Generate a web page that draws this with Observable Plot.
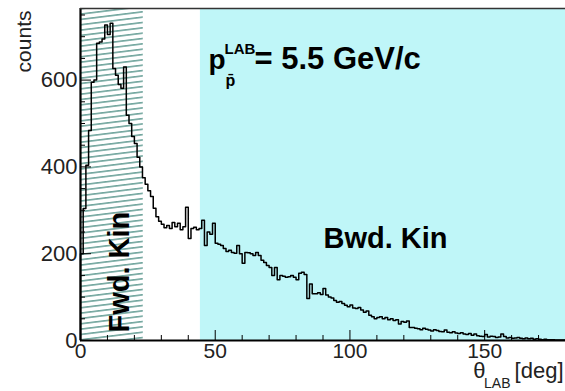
<!DOCTYPE html>
<html><head><meta charset="utf-8">
<script src="https://cdn.jsdelivr.net/npm/d3@7"></script>
<script src="https://cdn.jsdelivr.net/npm/@observablehq/plot@0.6"></script>
<style>body{margin:0;background:#fff}</style>
</head><body><div id="chart"></div>
<script>
// counts per 1-degree bin of theta_LAB (0..180 deg)
const binCounts = [
  200,304,404,484,595,600,685,688,695,727,
  705,731,627,611,590,581,630,519,500,470,
  454,422,400,375,360,345,332,305,285,275,
  268,260,265,258,272,262,270,255,262,307,
  235,258,261,255,258,277,219,250,245,270,
  224,222,219,212,205,208,203,201,219,200,
  178,203,202,200,196,203,196,185,180,173,
  168,150,168,140,150,148,146,147,150,146,
  140,155,157,152,97,130,108,108,110,106,
  120,105,100,98,92,88,90,85,81,78,
  82,75,74,76,70,65,68,58,55,50,
  53,55,50,53,48,50,46,48,38,44,
  42,45,30,30,28,27,25,28,26,24,
  22,25,23,21,20,24,19,18,20,17,
  16,18,15,14,16,12,15,11,10,9,
  14,8,10,9,7,8,15,9,6,7,
  5,6,7,5,4,6,4,5,3,4,
  3,2,3,2,2,2,1,1,1,1
];
const binWidth = 1;
const xDomain = [0, 180];
const yDomain = [0, 765];
const xTicksMajor = [0, 50, 100, 150];
const xTicksMinor = [10, 20, 30, 40, 60, 70, 80, 90, 110, 120, 130, 140, 160, 170];
const yTicksMajor = [0, 200, 400, 600];
const yTicksMinor = [50, 100, 150, 250, 300, 350, 450, 500, 550, 650, 700, 750];
const fwdRegion = [0, 23.3];
const bwdRegion = [44.5, 180];

const hist = [{x: 0, y: 0}];
binCounts.forEach((c, i) => hist.push({x: i * binWidth, y: c}));
hist.push({x: binCounts.length * binWidth, y: binCounts[binCounts.length - 1]});

const font = "'Liberation Sans', Arial, Helvetica, sans-serif";

const chart = Plot.plot({
  width: 565, height: 391,
  marginLeft: 80, marginRight: 0, marginTop: 8, marginBottom: 51,
  x: {domain: xDomain},
  y: {domain: yDomain},
  style: {fontFamily: font, background: "white", color: "black"},
  marks: [
    Plot.rect([bwdRegion], {x1: d => d[0], x2: d => d[1], y1: yDomain[0], y2: yDomain[1], fill: "#bff6f8"}),
    Plot.rect([fwdRegion], {x1: d => d[0], x2: d => d[1], y1: yDomain[0], y2: yDomain[1], fill: "url(#hatch)"}),
    Plot.line(hist, {x: "x", y: "y", curve: "step-after", stroke: "black", strokeWidth: 1.5}),
    Plot.axisX(xTicksMinor, {tickSize: -5, tickFormat: () => "", stroke: "black", label: null}),
    Plot.axisX(xTicksMajor, {tickSize: -10, tickFormat: () => "", stroke: "black", label: null}),
    Plot.axisX(xTicksMajor, {tickSize: 0, tickPadding: 3, fontSize: 21, fill: "#222", label: null}),
    Plot.axisY(yTicksMinor, {tickSize: -5, tickFormat: () => "", stroke: "black", label: null}),
    Plot.axisY(yTicksMajor, {tickSize: -11, tickFormat: () => "", stroke: "black", label: null}),
    Plot.axisY(yTicksMajor, {tickSize: 0, tickPadding: 3, fontSize: 22, fill: "#222", label: null}),
    Plot.ruleY([yDomain[0]], {stroke: "black", strokeWidth: 2.2}),
    Plot.ruleX([xDomain[0]], {stroke: "black", strokeWidth: 2.2}),
    Plot.ruleY([yDomain[1]], {stroke: "#333", strokeWidth: 1.3}),
    // axis titles
    Plot.text(["counts"], {frameAnchor: "top-left", text: d => d, rotate: -90, textAnchor: "end", lineAnchor: "bottom", dx: -50, dy: 2, fontSize: 21, fill: "#222"}),
    Plot.text(["[deg]"], {frameAnchor: "bottom-right", text: d => d, textAnchor: "end", lineAnchor: "bottom", dx: -2, dy: 37, fontSize: 22, fill: "#222"}),
    Plot.text(["LAB"], {frameAnchor: "bottom-right", text: d => d, textAnchor: "end", lineAnchor: "bottom", dx: -55, dy: 47.5, fontSize: 14, fill: "#222"}),
    Plot.text(["θ"], {frameAnchor: "bottom-right", text: d => d, textAnchor: "end", lineAnchor: "bottom", dx: -80, dy: 37, fontSize: 22, fill: "#222"}),
    // title
    Plot.text(["p"], {frameAnchor: "top-left", text: d => d, textAnchor: "start", lineAnchor: "bottom", dx: 128, dy: 60, fontSize: 28, fontWeight: "bold"}),
    Plot.text(["LAB"], {frameAnchor: "top-left", text: d => d, textAnchor: "start", lineAnchor: "bottom", dx: 144, dy: 45, fontSize: 15, fontWeight: "bold"}),
    Plot.text(["p\u0304"], {frameAnchor: "top-left", text: d => d, textAnchor: "start", lineAnchor: "bottom", dx: 145, dy: 77, fontSize: 16, fontWeight: "bold"}),
    Plot.text(["= 5.5 GeV/c"], {frameAnchor: "top-left", text: d => d, textAnchor: "start", lineAnchor: "bottom", dx: 174, dy: 60, fontSize: 31, fontWeight: "bold"}),
    // region labels
    Plot.text(["Bwd. Kin"], {frameAnchor: "top-left", text: d => d, textAnchor: "start", lineAnchor: "bottom", dx: 243, dy: 239, fontSize: 29, fontWeight: "bold"}),
    Plot.text(["Fwd. Kin"], {frameAnchor: "bottom-left", text: d => d, rotate: -90, textAnchor: "start", lineAnchor: "bottom", dx: 48, dy: -8, fontSize: 29, fontWeight: "bold"})
  ]
});

const defs = d3.select(chart).insert("defs", ":first-child");
const pat = defs.append("pattern").attr("id", "hatch").attr("patternUnits", "userSpaceOnUse")
  .attr("width", 10).attr("height", 5.3).attr("patternTransform", "rotate(-7)");
pat.append("rect").attr("width", 10).attr("height", 5.3).attr("fill", "white");
pat.append("line").attr("x1", 0).attr("y1", 2.6).attr("x2", 10).attr("y2", 2.6)
  .attr("stroke", "#2e7b6f").attr("stroke-width", 1.1);

document.getElementById("chart").appendChild(chart);
</script></body></html>
